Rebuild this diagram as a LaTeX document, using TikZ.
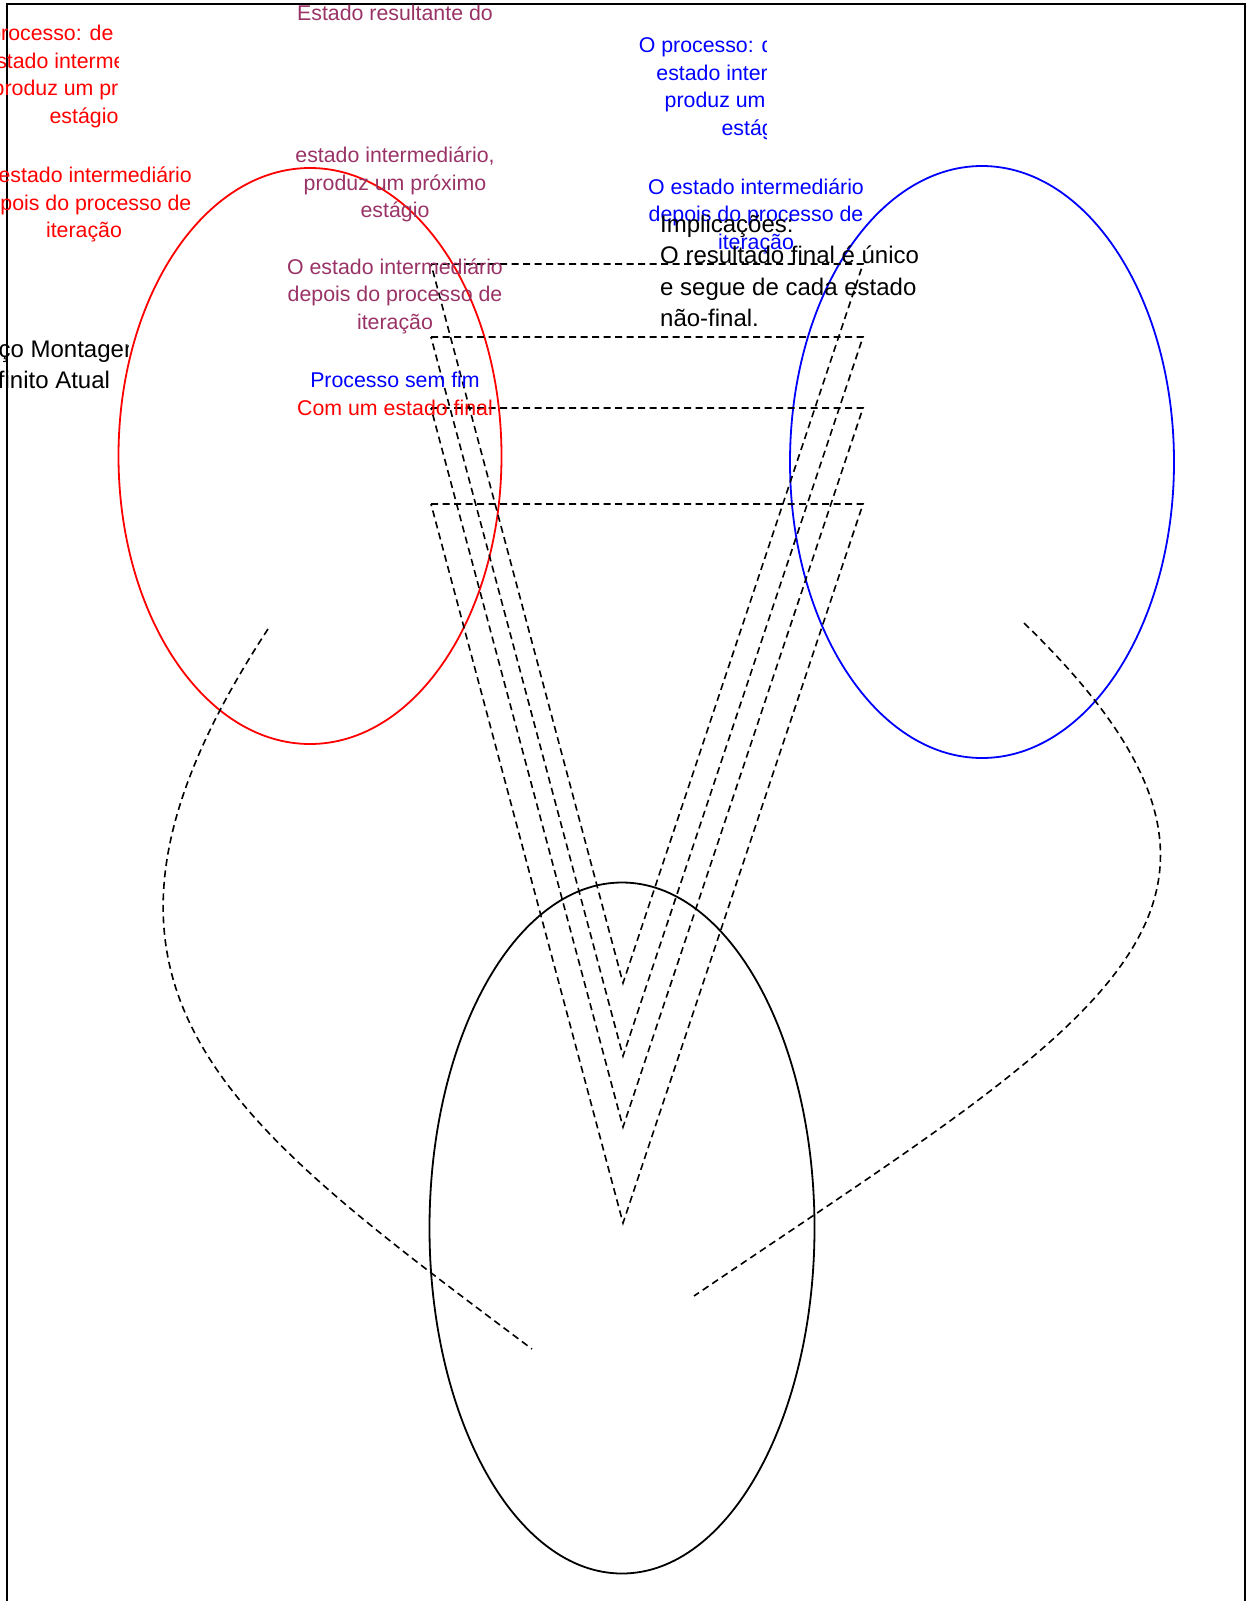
\documentclass[tikz,border=0pt]{standalone}
\usepackage{fontspec}
\setmainfont{Liberation Sans}
\usetikzlibrary{shapes.geometric, positioning}
\definecolor{roxo}{RGB}{153,51,102}
\tikzset{conjunto/.style = {ellipse, draw, line width = 1.8pt, inner sep = 0pt},
         tracejado/.style = {dashed, dash pattern = on 7pt off 4.5pt, line width = 1.6pt},
         rotulo/.style = {font = \fontsize{21.33}{27.6}\selectfont, align = center,
                          anchor = base, inner sep = 0pt},
         texto/.style = {font = \fontsize{24}{31.6}\selectfont, align = left,
                         anchor = base west, inner sep = 0pt}}

\begin{document}
\begin{tikzpicture}[x = 1pt, y = -1pt]
  \useasboundingbox (0,0) rectangle (1251,1601);
  \clip (0,0) rectangle (1251,1601);
  \draw[line width = 2.5pt] (7,4) rectangle (1245,1700);

  \node[conjunto, red,  minimum width = 383pt, minimum height = 576pt] (esq)  at (310,456)  {};
  \node[conjunto, blue, minimum width = 384pt, minimum height = 592pt] (dir)  at (982,462)  {};
  \node[conjunto,       minimum width = 385pt, minimum height = 691pt] (base) at (622,1228) {};

  \foreach \topo in {264,337,408,504}
    \draw[tracejado] (431,\topo) -- (863,\topo) -- (623,\topo+719) -- cycle;

  \coordinate (esqfim)   at (268,629);
  \coordinate (basefimA) at (532,1349);
  \coordinate (dirfim)   at (1024,623);
  \coordinate (basefimB) at (694,1296);
  \draw[tracejado] (esqfim) .. controls (35,985) and (220,1115) .. (basefimA);
  \draw[tracejado] (dirfim) .. controls (1320,910) and (1100,1020) .. (basefimB);

  % base = linha de baixo de cada bloco
  \begin{scope}
    \clip (0,0) rectangle (118,140);
    \node[rotulo, red] (procE) at (84,123.5)
      {O processo: de o estado\\estado intermediário,\\produz um próximo\\estágio};
  \end{scope}
  \node[rotulo, red]  (iterE)     at (84,237.9)  {O estado intermediário\\depois do processo de\\iteração};
  \node[rotulo, roxo] (resultado) at (395,20.7)  {Estado resultante do};
  \node[rotulo, roxo] (proximo)   at (395,217.9) {estado intermediário,\\produz um próximo\\estágio};
  \node[rotulo, roxo] (iterM)     at (395,329.2) {O estado intermediário\\depois do processo de\\iteração};
  \node[rotulo, blue] (semfim)    at (395,387.7) {Processo sem fim};
  \node[rotulo, red]  (comfinal)  at (395,415)   {Com um estado final};
  \begin{scope}
    \clip (0,0) rectangle (766,150);
    \node[rotulo, blue] (procD) at (756,135.5)
      {O processo: de o estado\\estado intermediário,\\produz um próximo\\estágio};
  \end{scope}
  \node[rotulo, blue] (iterD)   at (756,249.2) {O estado intermediário\\depois do processo de\\iteração};
  \node[texto]        (implica) at (660,326.8) {Implicações:\\O resultado final é único\\e segue de cada estado\\não-final.};
  \begin{scope}
    \clip (0,300) rectangle (128,420);
    \node[rotulo, font = \fontsize{24}{31.6}\selectfont] (espaco) at (44,388.6) {Espaço Montagem\\Infinito Atual};
  \end{scope}
\end{tikzpicture}
\end{document}
